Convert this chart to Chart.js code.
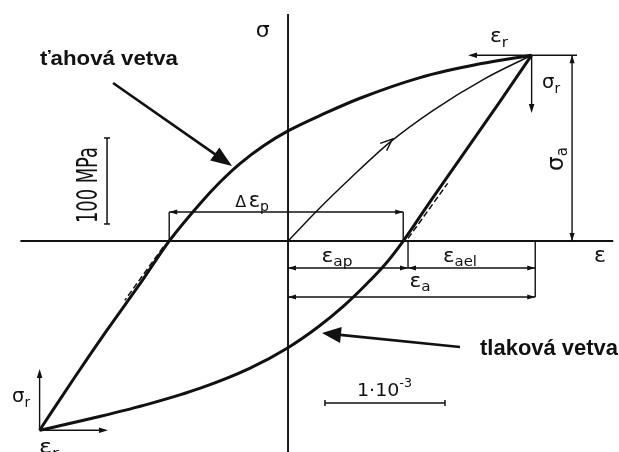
<!DOCTYPE html>
<html>
<head>
<meta charset="utf-8">
<script src="https://cdn.jsdelivr.net/npm/chart.js@4.4.1/dist/chart.umd.min.js"></script>
<style>
  html, body { margin: 0; padding: 0; background: #fff; }
  #wrap { width: 619px; height: 452px; }
</style>
</head>
<body>
<div id="wrap"><canvas id="loop"></canvas></div>
<script>
// Stabilised hysteresis loop. Strain in units of 1e-3, stress in MPa.

// tensile branch (ťahová vetva), lower reversal point -> upper reversal point
const tensionStrain = [-2.07, -1.78, -1.51, -1.23, -0.99, -0.73, -0.57, -0.40, -0.20, 0, 0.30, 0.60, 1.10, 1.60, 2.03];
const tensionStress = [-220, -159, -104, -49, 0, 44, 68, 90, 111, 128, 148, 166, 190, 206, 216];

// compressive branch (tlaková vetva), lower reversal point -> upper reversal point
const compressionStrain = [-2.07, -1.57, -1.15, -0.73, -0.32, 0, 0.25, 0.46, 0.64, 0.81, 0.96, 1.18, 1.43, 1.77, 2.03];
const compressionStress = [-220, -204, -189, -171, -148, -124, -100, -76, -52, -27, 0, 45, 95, 163, 216];

// first loading from the origin
const cyclicStrain = [0, 0.24, 0.52, 0.85, 1.21, 1.63, 2.03];
const cyclicStress = [0, 35, 73, 115, 152, 188, 216];

// elastic slope guides at the zero-stress crossings
const guideTensionStrain = [-1.04, -1.36];
const guideTensionStress = [-7, -69];
const guideCompressionStrain = [1.00, 1.33];
const guideCompressionStress = [3, 67];

// characteristic quantities
const strainAmplitude = 2.06;        // ε_a
const plasticStrainAmplitude = 1.00; // ε_ap
const stressAmplitude = 216;         // σ_a
const plasticWidth = [-0.99, 0.96];  // Δε_p
const stressBarMPa = 100;
const strainBar = 1;                 // 1·10^-3

// axis extents
const sigmaAxisStrain = [0, 0];
const sigmaAxisStress = [-246, 264];
const epsAxisStrain = [-2.23, 2.71];
const epsAxisStress = [0, 0];

const X_MIN = -2.4, X_MAX = 2.758, Y_MIN = -245.3, Y_MAX = 280.2;
const INK = '#111';
const TECH = '"DejaVu Sans", sans-serif';
const BOLD = '"Liberation Sans", Arial, sans-serif';

const pts = (xs, ys) => xs.map((x, i) => ({ x, y: ys[i] }));

function series(xs, ys, width, extra) {
  return Object.assign({
    data: pts(xs, ys),
    showLine: true,
    borderColor: INK,
    borderWidth: width,
    pointRadius: 0,
    fill: false,
    clip: false,
    cubicInterpolationMode: 'monotone'
  }, extra || {});
}

const notes = {
  id: 'loopNotes',
  afterDatasetsDraw(chart) {
    const { ctx, scales: { x: sx, y: sy } } = chart;
    const P = (a, b) => [sx.getPixelForValue(a), sy.getPixelForValue(b)];
    ctx.save();
    ctx.strokeStyle = INK;
    ctx.fillStyle = INK;
    ctx.lineCap = 'butt';

    const seg = (p, q, w) => {
      ctx.lineWidth = w;
      ctx.beginPath(); ctx.moveTo(p[0], p[1]); ctx.lineTo(q[0], q[1]); ctx.stroke();
    };
    const unit = (from, to) => {
      const dx = to[0] - from[0], dy = to[1] - from[1], L = Math.hypot(dx, dy);
      return [dx / L, dy / L];
    };
    const head = (tip, from, len, hw) => {
      const [ux, uy] = unit(from, tip);
      const bx = tip[0] - ux * len, by = tip[1] - uy * len;
      ctx.beginPath();
      ctx.moveTo(tip[0], tip[1]);
      ctx.lineTo(bx - uy * hw, by + ux * hw);
      ctx.lineTo(bx + uy * hw, by - ux * hw);
      ctx.closePath(); ctx.fill();
    };
    const arrow = (from, to, w, len, hw) => {
      const [ux, uy] = unit(from, to);
      seg(from, [to[0] - ux * len * 0.7, to[1] - uy * len * 0.7], w);
      head(to, from, len, hw);
    };
    const dim = (a, b) => {
      seg(a, b, 1.4);
      head(a, b, 8, 2.6);
      head(b, a, 8, 2.6);
    };
    const chevron = (tip, from, len, spread) => {
      const ang = Math.atan2(tip[1] - from[1], tip[0] - from[0]);
      ctx.lineWidth = 1.4;
      ctx.beginPath();
      ctx.moveTo(tip[0] - len * Math.cos(ang - spread), tip[1] - len * Math.sin(ang - spread));
      ctx.lineTo(tip[0], tip[1]);
      ctx.lineTo(tip[0] - len * Math.cos(ang + spread), tip[1] - len * Math.sin(ang + spread));
      ctx.stroke();
    };
    const label = (parts, ax, ay, o = {}) => {
      const [px, py] = P(ax, ay);
      const fam = o.family || TECH;
      const wt = o.bold ? 'bold ' : '';
      ctx.save();
      ctx.translate(px, py);
      if (o.rot) ctx.rotate(o.rot);
      ctx.textAlign = 'left';
      ctx.textBaseline = 'alphabetic';
      let total = 0;
      const ws = parts.map(([t, s]) => {
        ctx.font = wt + s + 'px ' + fam;
        const w = ctx.measureText(t).width; total += w; return w;
      });
      ctx.scale(o.width ? o.width / total : 1, 1);
      let cx = o.align === 'left' ? 0 : -total / 2;
      parts.forEach(([t, s, rise], i) => {
        ctx.font = wt + s + 'px ' + fam;
        ctx.fillText(t, cx, rise || 0);
        cx += ws[i];
      });
      ctx.restore();
    };

    const top = [tensionStrain[tensionStrain.length - 1], tensionStress[tensionStress.length - 1]];
    const bottom = [tensionStrain[0], tensionStress[0]];

    // Δε_p dimension
    const dpY = 33.7;
    seg(P(plasticWidth[0], 0), P(plasticWidth[0], dpY), 1.4);
    seg(P(plasticWidth[1], 0), P(plasticWidth[1], dpY), 1.4);
    dim(P(plasticWidth[0], dpY), P(plasticWidth[1], dpY));

    // ε_ap, ε_ael and ε_a dimensions
    const apY = -31.4, aY = -65.1;
    seg(P(plasticStrainAmplitude, 0), P(plasticStrainAmplitude, apY), 1.4);
    seg(P(strainAmplitude, 0), P(strainAmplitude, aY), 1.4);
    dim(P(0, apY), P(plasticStrainAmplitude, apY));
    dim(P(plasticStrainAmplitude, apY), P(strainAmplitude, apY));
    dim(P(0, aY), P(strainAmplitude, aY));

    // σ_a dimension
    const saX = 2.367;
    seg(P(top[0], stressAmplitude), P(2.408, stressAmplitude), 1.4);
    dim(P(saX, 0), P(saX, stressAmplitude));

    // reversal-point arrows ε_r, σ_r
    arrow(P(top[0], top[1]), P(1.5, top[1]), 1.4, 9, 2.8);
    arrow(P(top[0], top[1]), P(top[0], 148.8), 1.4, 9, 2.8);
    arrow(P(bottom[0], bottom[1]), P(bottom[0], -148.8), 1.4, 9, 2.8);
    arrow(P(bottom[0], bottom[1]), P(-1.5, bottom[1]), 1.4, 9, 2.8);

    // direction mark on the first loading curve
    chevron(P(0.87, 118.6), P(0.72, 100), 13, 0.38);

    // scale bars
    const sb0 = P(-1.508, 19.8), sb1 = P(-1.508, 19.8 + stressBarMPa);
    seg(sb0, sb1, 1.5);
    seg([sb0[0] - 3, sb0[1]], [sb0[0] + 3, sb0[1]], 1.5);
    seg([sb1[0] - 3, sb1[1]], [sb1[0] + 3, sb1[1]], 1.5);
    const eb0 = P(0.308, -188.4), eb1 = P(0.308 + strainBar, -188.4);
    seg(eb0, eb1, 1.5);
    seg([eb0[0], eb0[1] - 3], [eb0[0], eb0[1] + 3], 1.5);
    seg([eb1[0], eb1[1] - 3], [eb1[0], eb1[1] + 3], 1.5);

    // branch pointers
    arrow(P(-1.458, 183.7), P(-0.467, 87.2), 2.6, 21, 8);
    arrow(P(1.433, -123.3), P(0.283, -107), 2.6, 19, 8);

    // symbols
    label([['σ', 22]], -0.21, 237);
    label([['ε', 22]], 2.6, -24.4);
    label([['Δ', 16], [' ', 8], ['ε', 21], ['p', 14, 4]], -0.3, 39.5);
    label([['ε', 20], ['ap', 14, 4]], 0.408, -24.4, { width: 31 });
    label([['ε', 20], ['ael', 14, 4]], 1.433, -24.4, { width: 34 });
    label([['ε', 20], ['a', 14, 4]], 1.1, -53.5, { width: 21 });
    label([['ε', 20], ['r', 14, 5]], 1.758, 231.4, { width: 18 });
    label([['σ', 20], ['r', 14, 5]], 2.192, 177.9, { width: 18 });
    label([['σ', 20], ['r', 14, 5]], -2.225, -187.2, { width: 18 });
    label([['ε', 20], ['r', 14, 5]], -1.992, -246.5, { width: 20 });
    label([['σ', 23], ['a', 15, 4]], 2.29, 95.3, { rot: -Math.PI / 2 });
    label([['100 MPa', 28]], -1.592, 65.1, { rot: -Math.PI / 2, width: 76 });
    label([['1·10', 18], ['-3', 12, -9]], 0.804, -180.2, { width: 55 });

    // branch names
    label([['ťahová vetva', 21]], -2.067, 204.7, { align: 'left', bold: true, family: BOLD, width: 138 });
    label([['tlaková vetva', 22]], 1.6, -132.6, { align: 'left', bold: true, family: BOLD, width: 138 });

    ctx.restore();
  }
};

new Chart(document.getElementById('loop'), {
  type: 'scatter',
  data: {
    datasets: [
      series(sigmaAxisStrain, sigmaAxisStress, 1.9, { cubicInterpolationMode: 'default', tension: 0 }),
      series(epsAxisStrain, epsAxisStress, 1.9, { cubicInterpolationMode: 'default', tension: 0 }),
      series(guideTensionStrain, guideTensionStress, 1.5, { borderDash: [6, 3], tension: 0 }),
      series(guideCompressionStrain, guideCompressionStress, 1.5, { borderDash: [6, 3], tension: 0 }),
      series(cyclicStrain, cyclicStress, 1.5),
      series(tensionStrain, tensionStress, 3),
      series(compressionStrain, compressionStress, 3)
    ]
  },
  options: {
    responsive: true,
    maintainAspectRatio: false,
    animation: false,
    events: [],
    layout: { padding: 0 },
    plugins: { legend: { display: false }, tooltip: { enabled: false } },
    scales: {
      x: { type: 'linear', min: X_MIN, max: X_MAX, display: false },
      y: { type: 'linear', min: Y_MIN, max: Y_MAX, display: false }
    }
  },
  plugins: [notes]
});
</script>
</body>
</html>
